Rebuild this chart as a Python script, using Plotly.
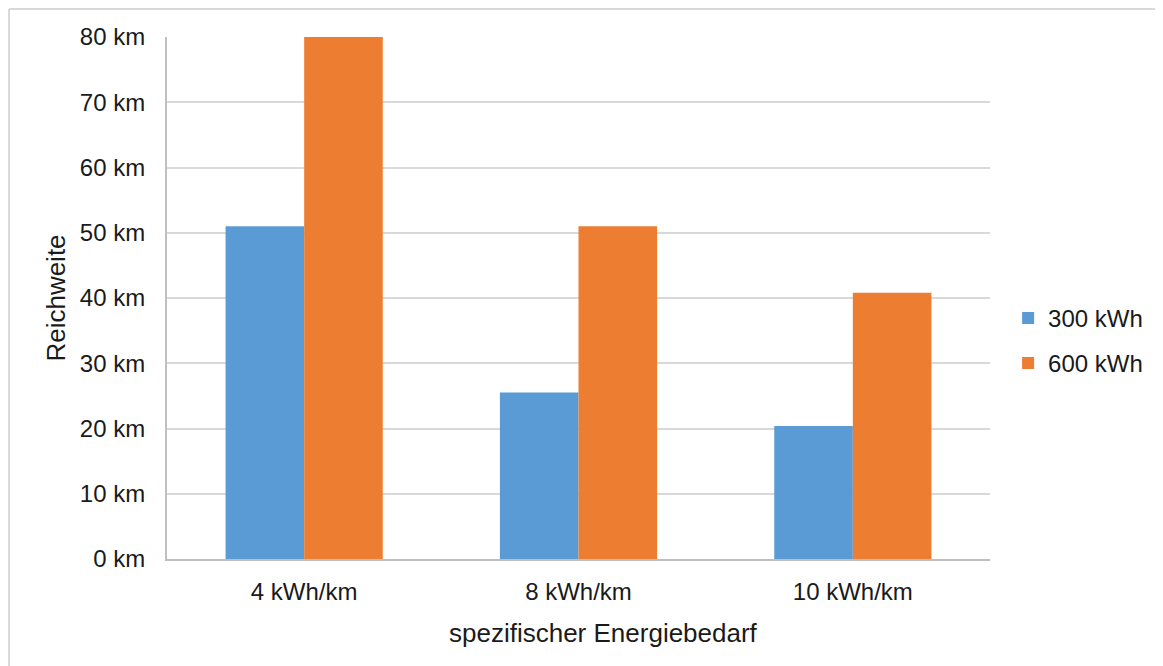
import plotly.graph_objects as go

# Data
categories = ['4 kWh/km', '8 kWh/km', '10 kWh/km']
series_names = ['300 kWh', '600 kWh']
range_300 = [51, 25.5, 20.4]
range_600 = [80, 51, 40.8]
colors = ['#5B9BD5', '#ED7D31']
y_ticks = [0, 10, 20, 30, 40, 50, 60, 70, 80]
y_tick_labels = [f'{v} km' for v in y_ticks]

fig = go.Figure()
for name, vals, col in zip(series_names, [range_300, range_600], colors):
    fig.add_trace(go.Bar(x=categories, y=vals, name=name, marker_color=col,
                         marker_line_width=0, legendgroup=name))

FAMILY = 'Liberation Sans, Arial, sans-serif'
TEXT = '#1a1a1a'

# plot area is 823 x 522 px
W, H = 823, 522
fig.update_layout(
    width=1163, height=666,
    paper_bgcolor='white', plot_bgcolor='white',
    font=dict(family=FAMILY, size=24, color=TEXT),
    barmode='group', bargap=0.427, bargroupgap=0,
    margin=dict(l=159, r=181, t=29, b=115),
    legend=dict(x=1.022, y=0.418, yanchor='middle', xanchor='left',
                font=dict(family=FAMILY, size=24, color=TEXT),
                itemwidth=30, tracegroupgap=11, traceorder='grouped'),
    xaxis=dict(showline=True, linecolor='#bfbfbf', linewidth=2,
               ticks='', showgrid=False, ticklabelstandoff=10),
    yaxis=dict(title=dict(text='Reichweite', standoff=7,
                          font=dict(family=FAMILY, size=26, color=TEXT)),
               range=[0, 80], tickvals=y_ticks, ticktext=y_tick_labels,
               showline=True, linecolor='#bfbfbf', linewidth=2,
               gridcolor='#d9d9d9', gridwidth=1.5, ticks='',
               ticklabelstandoff=15, zeroline=False),
    annotations=[dict(text='spezifischer Energiebedarf', xref='paper', yref='paper',
                      x=436 / W, y=-74 / H, xanchor='center', yanchor='middle',
                      showarrow=False,
                      font=dict(family=FAMILY, size=26, color=TEXT))],
    shapes=[
        dict(type='line', xref='paper', yref='paper',
             x0=-158 / W, x1=1 + 181 / W, y0=1 + 28 / H, y1=1 + 28 / H,
             line=dict(color='#d9d9d9', width=2)),
        dict(type='line', xref='paper', yref='paper',
             x0=-158 / W, x1=-158 / W, y0=1 + 28 / H, y1=-115 / H,
             line=dict(color='#d9d9d9', width=2)),
    ],
)

fig.write_html('out.html')
